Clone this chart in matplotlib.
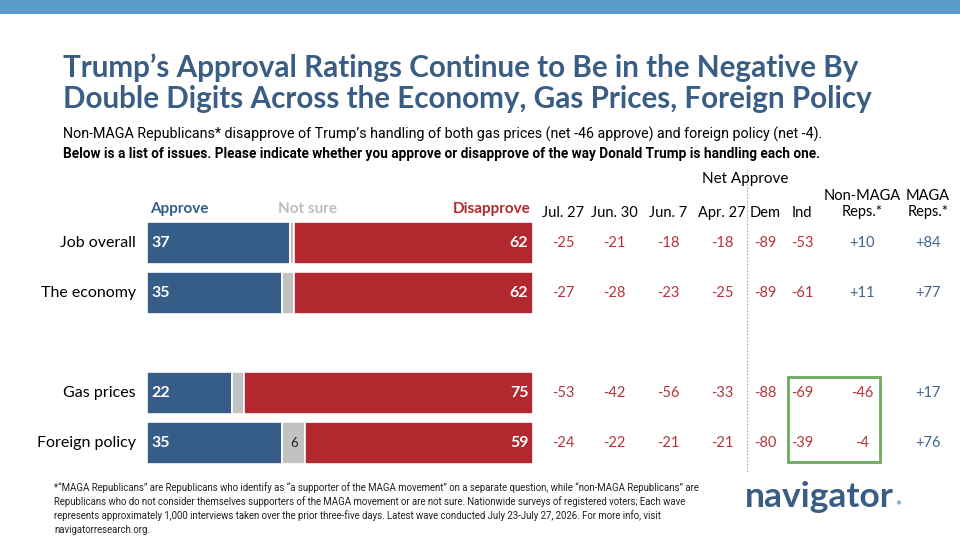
import matplotlib
matplotlib.use("Agg")
import matplotlib.pyplot as plt
import matplotlib.transforms as mtrans
from matplotlib.patches import Rectangle

# ---------------- data ----------------
categories = ["Job overall", "The economy", "Gas prices", "Foreign policy"]
approve = [37, 35, 22, 35]
not_sure = [1, 3, 3, 6]
disapprove = [62, 62, 75, 59]
show_not_sure = [False, False, False, True]

net_columns = ["Jul. 27", "Jun. 30", "Jun. 7", "Apr. 27", "Dem", "Ind", "Non-MAGA\nReps.*", "MAGA\nReps.*"]
net_values = [
    [-25, -21, -18, -18, -89, -53, 10, 84],
    [-27, -28, -23, -25, -89, -61, 11, 77],
    [-53, -42, -56, -33, -88, -69, -46, 17],
    [-24, -22, -21, -21, -80, -39, -4, 76],
]

title_lines = ["Trump\u2019s Approval Ratings Continue to Be in the Negative By",
               "Double Digits Across the Economy, Gas Prices, Foreign Policy"]
subtitle = ("Non-MAGA Republicans* disapprove of Trump\u2019s handling of both gas prices "
            "(net -46 approve) and foreign policy (net -4).")
question = ("Below is a list of issues. Please indicate whether you approve or disapprove "
            "of the way Donald Trump is handling each one.")
footnote = ("*\u201cMAGA Republicans\u201d are Republicans who identify as \u201ca supporter of the MAGA movement\u201d on a separate question, while \u201cnon-MAGA Republicans\u201d are\n"
            "Republicans who do not consider themselves supporters of the MAGA movement or are not sure. Nationwide surveys of registered voters; Each wave\n"
            "represents approximately 1,000 interviews taken over the prior three-five days. Latest wave conducted July 23-July 27, 2026. For more info, visit\n"
            "navigatorresearch.org.")

# ---------------- style ----------------
BLUE = "#355d87"
RED = "#b3272e"
GREY = "#c2c2c2"
TITLE_BLUE = "#3a5d86"
NEG = "#b8333b"
POS = "#41648f"
GREEN = "#6bab5c"
BAND = "#5b9bcc"

FONT = ["Lato", "DejaVu Sans"]
NARROW = ["Liberation Sans Narrow", "Roboto", "DejaVu Sans"]
plt.rcParams["font.family"] = FONT

W, H = 960, 540
fig = plt.figure(figsize=(W / 100, H / 100), dpi=100)

# overlay axes in pixel coordinates
ov = fig.add_axes([0, 0, 1, 1])
ov.set_xlim(0, W)
ov.set_ylim(H, 0)
ov.axis("off")

# top band
ov.add_patch(Rectangle((0, 0), W, 14, color=BAND, lw=0))

# bar axes: x 0..100 -> px 147..533 ; rows at y positions
row_pos = [0, 1, 3, 4]
bx0, bx1 = 147, 533
by0, by1 = 218, 468  # pixel top/bottom corresponding to y -0.5 .. 4.5
bar_ax = fig.add_axes([bx0 / W, 1 - by1 / H, (bx1 - bx0) / W, (by1 - by0) / H])
bar_ax.set_xlim(0, 100)
bar_ax.set_ylim(4.5, -0.5)
bar_ax.axis("off")
bar_ax.patch.set_alpha(0)

h = 0.84
left_ns = [a for a in approve]
left_dis = [a + n for a, n in zip(approve, not_sure)]
bar_ax.barh(row_pos, approve, height=h, color=BLUE, edgecolor="white", linewidth=1.2)
bar_ax.barh(row_pos, not_sure, left=left_ns, height=h, color=GREY, edgecolor="white", linewidth=1.2)
bar_ax.barh(row_pos, disapprove, left=left_dis, height=h, color=RED, edgecolor="white", linewidth=1.2)

for i, y in enumerate(row_pos):
    bar_ax.text(1.2, y, str(approve[i]), color="white", fontsize=11.5, fontweight="bold",
                va="center", ha="left")
    bar_ax.text(100 - 1.2, y, str(disapprove[i]), color="white", fontsize=11.5, fontweight="bold",
                va="center", ha="right")
    if show_not_sure[i]:
        bar_ax.text(left_ns[i] + not_sure[i] / 2, y, str(not_sure[i]), color="#222222",
                    fontsize=9.5, va="center", ha="center")

# category labels
blend = mtrans.blended_transform_factory(ov.transData, bar_ax.transData)
for i, y in enumerate(row_pos):
    ov.text(136, y, categories[i], transform=blend, ha="right", va="center",
            fontsize=11.5, color="black")

# legend headers above bars
ov.text(150, 209, "Approve", color=BLUE, fontsize=11, fontweight="bold", ha="left", va="center")
ov.text(308, 209, "Not sure", color="#bdbdbd", fontsize=11, fontweight="bold", ha="center", va="center")
ov.text(530, 209, "Disapprove", color=RED, fontsize=11, fontweight="bold", ha="right", va="center")

# net approve table
col_x = [563, 614, 668, 722, 765, 802, 862, 928]
ov.text(745, 179, "Net Approve", fontsize=11, ha="center", va="center", color="black")
for j, lab in enumerate(net_columns):
    if "\n" in lab:
        ov.text(col_x[j], 204, lab, fontsize=10.5, ha="center", va="center",
                multialignment="center", color="black", linespacing=1.25)
    else:
        ov.text(col_x[j], 213, lab, fontsize=10.5, ha="center", va="center", color="black")
for i, y in enumerate(row_pos):
    for j, v in enumerate(net_values[i]):
        s = f"+{v}" if v > 0 else str(v)
        ov.text(col_x[j], y, s, transform=blend, fontsize=10.5, ha="center", va="center",
                color=POS if v > 0 else NEG)

# dotted separator
ov.plot([747, 747], [170, 472], color="#b0b0b0", lw=0.8, ls=(0, (1.5, 1.5)))

# green highlight box (Ind / Non-MAGA on gas & foreign policy)
ov.add_patch(Rectangle((788, 377), 92, 85, fill=False, edgecolor=GREEN, lw=2))

# titles
ov.text(63, 77, title_lines[0], fontsize=21.3, fontweight="bold", color=TITLE_BLUE,
        ha="left", va="baseline")
ov.text(63, 108, title_lines[1], fontsize=21.3, fontweight="bold", color=TITLE_BLUE,
        ha="left", va="baseline")
ov.text(63, 134, subtitle, fontsize=10.3, ha="left", va="center", color="black", family=NARROW)
ov.text(63, 154, question, fontsize=9.8, ha="left", va="center", color="black",
        fontweight="bold", family=NARROW)

# footnote
ov.text(54, 482, footnote, fontsize=6.9, ha="left", va="top", color="#222222",
        family=NARROW, linespacing=1.38)

# logo
logo = ov.text(745, 507, "navigator", fontsize=25.5, fontweight="bold", color=TITLE_BLUE,
               ha="left", va="baseline")
fig.canvas.draw()
bb = logo.get_window_extent(renderer=fig.canvas.get_renderer())
x_end = ov.transData.inverted().transform((bb.x1, bb.y0))[0]
ov.text(x_end + 1, 510, "*", fontsize=10, color=BAND, ha="left", va="baseline",
        fontweight="bold")

fig.savefig("out.png", dpi=100)
